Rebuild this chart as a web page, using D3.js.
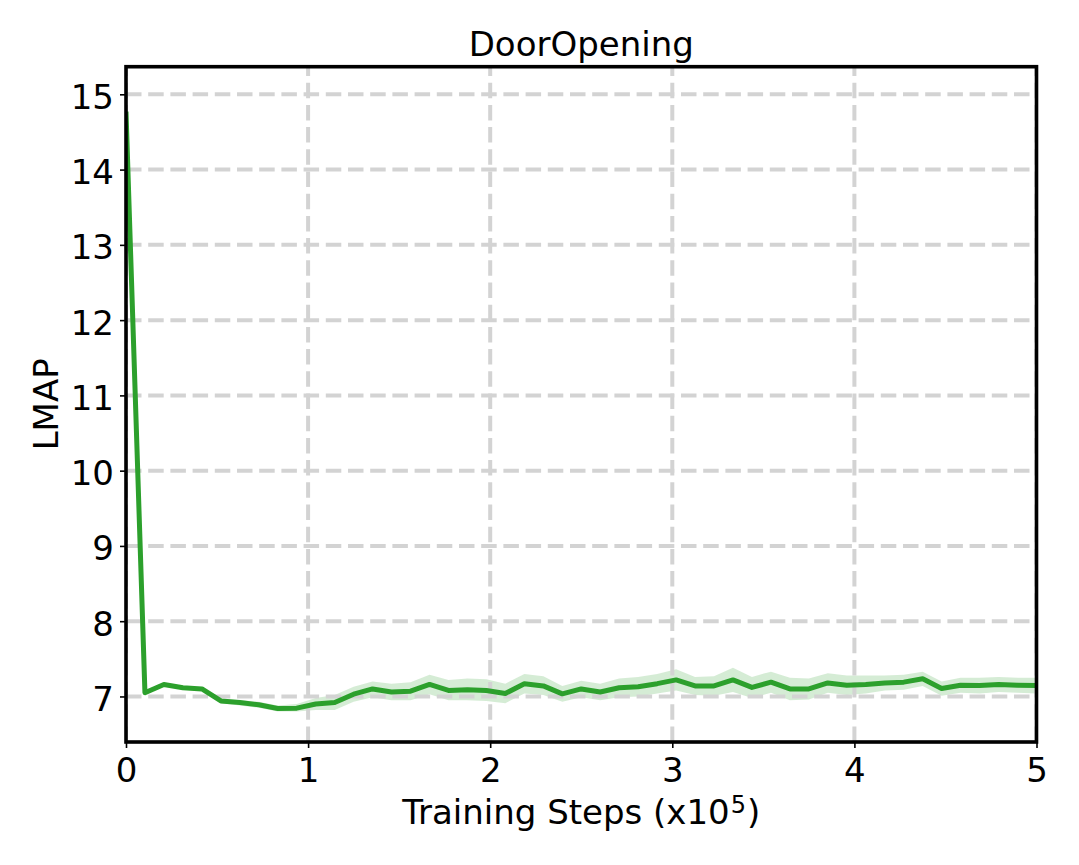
<!DOCTYPE html>
<html>
<head>
<meta charset="utf-8">
<script src="https://cdn.jsdelivr.net/npm/d3@7"></script>
<style>
  html, body { margin: 0; padding: 0; background: #fff; }
  text { font-family: "DejaVu Sans", sans-serif; fill: #000; }
</style>
</head>
<body>
<svg id="chart" width="1079" height="865"></svg>
<script>
const title = "DoorOpening";
const xLabel = "Training Steps (x10";
const xLabelSup = "5";
const yLabel = "LMAP";

const xTicks = [0, 1, 2, 3, 4, 5];
const yTicks = [7, 8, 9, 10, 11, 12, 13, 14, 15];

const steps = [0, 0.104, 0.208, 0.3125, 0.417, 0.521, 0.625, 0.729, 0.833, 0.9375,
  1.042, 1.146, 1.25, 1.354, 1.458, 1.5625, 1.667, 1.771, 1.875, 1.979,
  2.083, 2.1875, 2.292, 2.396, 2.5, 2.604, 2.708, 2.8125, 2.917, 3.021,
  3.125, 3.229, 3.333, 3.4375, 3.542, 3.646, 3.75, 3.854, 3.958, 4.0625,
  4.167, 4.271, 4.375, 4.479, 4.583, 4.6875, 4.792, 4.896, 5];

const meanLMAP = [14.77, 7.05, 7.16, 7.115, 7.10, 6.94, 6.92, 6.89, 6.84, 6.845,
  6.90, 6.92, 7.03, 7.10, 7.06, 7.07, 7.16, 7.08, 7.09, 7.08,
  7.04, 7.17, 7.14, 7.035, 7.10, 7.06, 7.115, 7.13, 7.17, 7.22,
  7.14, 7.14, 7.22, 7.12, 7.19, 7.10, 7.10, 7.18, 7.15, 7.16,
  7.18, 7.19, 7.235, 7.105, 7.15, 7.145, 7.16, 7.15, 7.145];

const upperLMAP = [14.96, 7.07, 7.18, 7.14, 7.12, 6.97, 6.95, 6.93, 6.88, 6.90,
  6.98, 7.02, 7.13, 7.20, 7.17, 7.19, 7.29, 7.22, 7.24, 7.23,
  7.17, 7.30, 7.27, 7.14, 7.21, 7.17, 7.24, 7.26, 7.30, 7.36,
  7.26, 7.27, 7.38, 7.26, 7.33, 7.25, 7.24, 7.31, 7.28, 7.28,
  7.28, 7.29, 7.33, 7.20, 7.25, 7.25, 7.26, 7.25, 7.25];

const lowerLMAP = [14.58, 7.03, 7.14, 7.09, 7.08, 6.91, 6.88, 6.85, 6.80, 6.80,
  6.82, 6.82, 6.93, 6.99, 6.95, 6.95, 7.03, 6.95, 6.95, 6.94,
  6.91, 7.04, 7.02, 6.93, 6.99, 6.95, 6.99, 7.00, 7.04, 7.08,
  7.02, 7.01, 7.06, 6.98, 7.05, 6.95, 6.96, 7.05, 7.02, 7.04,
  7.08, 7.09, 7.14, 7.01, 7.05, 7.04, 7.06, 7.05, 7.04];

const green = "#2ca02c";

const svg = d3.select("#chart");
const L = 126, R = 1036.5, T = 66.7, B = 742;

const x = d3.scaleLinear().domain([0, 5]).range([L, R]);
const y = d3.scaleLinear().domain([6.395, 15.367]).range([B, T]);

const data = steps.map((s, i) => ({ s, m: meanLMAP[i], lo: lowerLMAP[i], hi: upperLMAP[i] }));

svg.append("defs").append("clipPath").attr("id", "plotclip")
  .append("rect").attr("x", L).attr("y", T).attr("width", R - L).attr("height", B - T);

const plot = svg.append("g").attr("clip-path", "url(#plotclip)");

// band
plot.append("path")
  .datum(data)
  .attr("d", d3.area().x(d => x(d.s)).y0(d => y(d.lo)).y1(d => y(d.hi)))
  .attr("fill", green)
  .attr("fill-opacity", 0.2)
  .attr("stroke", "none");

// grid
const grid = plot.append("g");
grid.selectAll("line.gx").data(xTicks).join("line")
  .attr("x1", d => x(d)).attr("x2", d => x(d))
  .attr("y1", B).attr("y2", T)
  .attr("stroke", "#d3d3d3").attr("stroke-width", 4)
  .attr("stroke-dasharray", "15.5,6.7");
grid.selectAll("line.gy").data(yTicks).join("line")
  .attr("x1", L).attr("x2", R)
  .attr("y1", d => y(d)).attr("y2", d => y(d))
  .attr("stroke", "#d3d3d3").attr("stroke-width", 4)
  .attr("stroke-dasharray", "15.5,6.7");

// mean line
plot.append("path")
  .datum(data)
  .attr("d", d3.line().x(d => x(d.s)).y(d => y(d.m)))
  .attr("fill", "none")
  .attr("stroke", green)
  .attr("stroke-width", 5)
  .attr("stroke-linejoin", "round");

// axes
const xAxis = svg.append("g").attr("transform", `translate(0,${B})`)
  .call(d3.axisBottom(x).tickValues(xTicks).tickFormat(d3.format("d")).tickSize(6).tickSizeOuter(0));
xAxis.select(".domain").remove();
xAxis.selectAll(".tick line").attr("stroke", "#000").attr("stroke-width", 1.6);
xAxis.selectAll(".tick text").attr("y", 39.5).attr("dy", null)
  .style("font-family", "'DejaVu Sans', sans-serif").style("font-size", "34px").attr("fill", "#000");

const yAxis = svg.append("g").attr("transform", `translate(${L},0)`)
  .call(d3.axisLeft(y).tickValues(yTicks).tickFormat(d3.format("d")).tickSize(6).tickPadding(6).tickSizeOuter(0));
yAxis.select(".domain").remove();
yAxis.selectAll(".tick line").attr("stroke", "#000").attr("stroke-width", 1.6);
yAxis.selectAll(".tick text").attr("dy", 14)
  .style("font-family", "'DejaVu Sans', sans-serif").style("font-size", "34px").attr("fill", "#000");

// spines
svg.append("rect")
  .attr("x", L).attr("y", T).attr("width", R - L).attr("height", B - T)
  .attr("fill", "none").attr("stroke", "#000").attr("stroke-width", 3.6);

// title
svg.append("text")
  .attr("x", (L + R) / 2).attr("y", 56)
  .attr("text-anchor", "middle")
  .style("font-size", "34px")
  .text(title);

// x label
const xl = svg.append("text")
  .attr("x", (L + R) / 2).attr("y", 823.5)
  .attr("text-anchor", "middle")
  .style("font-size", "34px");
xl.append("tspan").text(xLabel);
xl.append("tspan").attr("dy", -11).attr("dx", 1).style("font-size", "24px").text(xLabelSup);
xl.append("tspan").attr("dy", 11).attr("dx", 1).text(")");

// y label
svg.append("text")
  .attr("transform", `translate(58,${(T + B) / 2}) rotate(-90)`)
  .attr("text-anchor", "middle")
  .style("font-size", "34px")
  .text(yLabel);
</script>
</body>
</html>
